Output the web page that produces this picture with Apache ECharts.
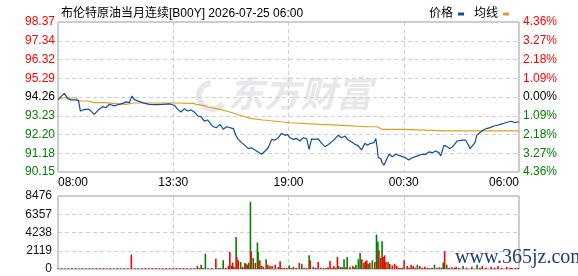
<!DOCTYPE html>
<html>
<head>
<meta charset="utf-8">
<script src="https://cdn.jsdelivr.net/npm/echarts@6/dist/echarts.min.js"></script>
<style>
html, body { margin: 0; padding: 0; background: #fff; }
#chart { width: 578px; height: 276px; }
</style>
</head>
<body>
<div id="chart"></div>
<script>
// tick labels
var priceTicks = ['90.15', '91.18', '92.20', '93.23', '94.26', '95.29', '96.32', '97.34', '98.37'];
var pctTicks = ['4.36%', '3.27%', '2.18%', '1.09%', '0.00%', '1.09%', '2.18%', '3.27%', '4.36%'];
var timeTicks = ['08:00', '13:30', '19:00', '00:30', '06:00'];
var volTicks = ['0', '2119', '4238', '6357', '8476'];

// price line (minutes after 08:00)
var priceMin = [0, 4, 18, 28, 37, 52, 59, 62, 64, 77, 89, 94, 104, 109, 117, 128, 137, 147, 161, 176,
    185, 195, 204, 212, 218, 228, 242, 261, 281, 300, 319, 333, 343, 352, 362, 371, 381, 390, 400, 409,
    419, 429, 438, 445, 454, 464, 473, 483, 492, 502, 510, 516, 526, 535, 545, 554, 564, 573, 583, 593,
    602, 612, 621, 631, 640, 650, 657, 664, 674, 683, 693, 702, 712, 719, 726, 735, 745, 755, 764, 774,
    783, 793, 802, 812, 822, 831, 841, 850, 860, 869, 879, 886, 895, 905, 910, 914, 917, 924, 928, 933,
    938, 943, 948, 957, 967, 976, 986, 995, 1004, 1014, 1024, 1033, 1043, 1053, 1062, 1072, 1081, 1091, 1096, 1105,
    1114, 1122, 1132, 1143, 1158, 1167, 1174, 1180, 1186, 1194, 1199, 1208, 1218, 1227, 1237, 1248, 1259, 1267, 1277, 1288,
    1298, 1307, 1315, 1320];
var priceVal = [94.12, 94.10, 94.46, 94.17, 94.10, 94.10, 94.05, 94.02, 93.49, 93.58, 93.58, 93.49, 93.31, 93.26, 93.58, 93.73, 93.67, 93.86, 93.77, 93.86,
    93.91, 93.99, 93.95, 94.31, 94.13, 94.05, 93.95, 93.86, 93.84, 93.86, 93.88, 93.81, 93.58, 93.44, 93.62, 93.49, 93.55, 93.44, 93.22, 93.18,
    92.94, 93.00, 92.76, 92.63, 92.58, 92.76, 92.49, 92.63, 92.58, 92.53, 92.12, 91.94, 91.76, 91.61, 91.43, 91.48, 91.36, 91.25, 91.12, 91.30,
    91.48, 91.94, 91.90, 92.03, 92.27, 92.16, 92.21, 92.03, 91.94, 91.99, 91.85, 92.03, 91.97, 91.39, 91.97, 91.94, 91.97, 91.72, 91.54, 91.66,
    91.79, 91.97, 92.16, 92.03, 92.12, 91.90, 91.79, 91.67, 91.58, 91.36, 91.72, 91.62, 91.72, 91.76, 91.98, 91.48, 90.93, 90.88, 90.66, 90.52,
    90.57, 90.93, 91.12, 90.99, 91.12, 91.06, 90.99, 90.93, 90.81, 90.93, 90.99, 91.06, 91.12, 91.12, 91.25, 91.21, 91.30, 91.21, 91.03, 91.61,
    91.54, 91.43, 91.58, 91.85, 91.90, 91.90, 91.67, 91.43, 91.58, 91.76, 92.16, 92.31, 92.45, 92.53, 92.58, 92.67, 92.71, 92.76, 92.82, 92.89,
    92.93, 92.86, 92.89, 92.89];

// average line
var avgMin = [0, 17, 52, 60, 86, 103, 132, 137, 195, 215, 329, 387, 395, 415, 432, 464, 492, 521, 550, 587,
    664, 750, 816, 879, 913, 928, 991, 1105, 1320];
var avgVal = [94.17, 94.22, 94.22, 94.04, 94.04, 93.95, 93.95, 93.86, 93.86, 93.93, 93.93, 93.91, 93.86, 93.80, 93.70, 93.58, 93.44, 93.26, 93.09, 93.00,
    92.85, 92.76, 92.71, 92.63, 92.63, 92.49, 92.49, 92.40, 92.40];

// volume: minute, amount, 1 = up (red) / 0 = down (green)
var volMin = [0, 10, 20, 30, 40, 50, 60, 70, 80, 90, 100, 110, 120, 130, 140, 150, 160, 170, 180, 190,
    200, 210, 220, 230, 240, 250, 260, 270, 280, 290, 300, 310, 320, 330, 340, 350, 360, 370, 380, 390,
    399, 405, 410, 415, 422, 430, 440, 452, 460, 466, 473, 480, 488, 492, 497, 500, 504, 510, 512, 516,
    523, 529, 535, 538, 542, 546, 551, 553, 559, 565, 571, 573, 578, 583, 588, 596, 601, 607, 613, 622,
    631, 636, 641, 648, 655, 662, 668, 674, 682, 691, 698, 705, 712, 719, 722, 731, 738, 745, 752, 760,
    767, 773, 779, 785, 790, 795, 800, 803, 809, 814, 819, 824, 828, 836, 844, 849, 853, 860, 865, 870,
    876, 880, 884, 888, 893, 900, 907, 912, 916, 919, 924, 928, 931, 935, 939, 945, 950, 957, 964, 970,
    976, 981, 986, 991, 1000, 1005, 1011, 1017, 1023, 1029, 1036, 1043, 1050, 1057, 1064, 1071, 1078, 1085, 1092, 1098,
    1103, 1107, 1113, 1120, 1128, 1135, 1140, 1148, 1160, 1170, 1185, 1200, 1208, 1215, 1225, 1240, 1250, 1260, 1270, 1285,
    1295, 1300, 1310, 1318];
var volVal = [100, 100, 100, 100, 120, 100, 100, 100, 100, 120, 100, 100, 100, 100, 100, 100, 100, 120, 100, 100,
    100, 1670, 100, 100, 100, 100, 100, 100, 100, 100, 100, 100, 100, 100, 100, 100, 100, 100, 100, 100,
    350, 100, 500, 150, 1780, 100, 120, 1200, 120, 100, 1010, 150, 350, 1980, 400, 740, 250, 3730, 1400, 1010,
    815, 250, 700, 600, 500, 740, 7810, 2060, 1280, 700, 3070, 1980, 1010, 350, 250, 1130, 500, 350, 350, 500,
    250, 890, 120, 150, 120, 400, 120, 250, 150, 700, 600, 150, 120, 1590, 1010, 250, 150, 815, 150, 120,
    120, 200, 930, 150, 350, 150, 1400, 350, 250, 200, 1130, 200, 1400, 250, 350, 200, 500, 1130, 1870, 1130,
    740, 890, 1000, 600, 740, 1010, 815, 4000, 3150, 2180, 1280, 3230, 1400, 1590, 815, 815, 600, 400, 600, 350,
    150, 120, 150, 1010, 350, 150, 500, 350, 150, 500, 350, 150, 250, 150, 120, 150, 500, 150, 200, 150,
    740, 2060, 500, 150, 200, 150, 250, 150, 350, 150, 250, 500, 150, 350, 150, 250, 150, 350, 150, 250,
    150, 120, 150, 150];
var volUp = [1, 1, 1, 1, 0, 0, 1, 1, 1, 0, 0, 1, 1, 1, 0, 1, 1, 0, 0, 1,
    1, 1, 1, 0, 1, 1, 0, 1, 1, 1, 1, 0, 1, 1, 1, 0, 1, 1, 1, 0,
    1, 1, 0, 1, 0, 0, 1, 1, 0, 1, 0, 1, 1, 1, 0, 1, 1, 0, 1, 1,
    0, 1, 1, 0, 1, 0, 0, 1, 0, 1, 0, 0, 1, 1, 1, 0, 1, 1, 1, 1,
    0, 1, 1, 1, 1, 0, 1, 1, 0, 1, 0, 1, 1, 0, 1, 1, 0, 1, 1, 0,
    1, 1, 1, 0, 1, 1, 1, 0, 1, 0, 0, 1, 0, 1, 1, 0, 0, 0, 0, 1,
    0, 1, 1, 0, 1, 0, 1, 0, 0, 1, 1, 0, 1, 1, 1, 0, 1, 1, 1, 1,
    1, 0, 1, 1, 0, 1, 1, 1, 1, 0, 1, 1, 1, 1, 0, 1, 0, 1, 1, 0,
    0, 1, 0, 1, 1, 0, 1, 1, 0, 1, 1, 0, 1, 1, 1, 1, 1, 1, 1, 1,
    1, 1, 1, 1];

var FONT = '"Liberation Sans", "Noto Sans CJK SC", sans-serif';
var RED = '#ff0000', GREEN = '#008000';

var priceData = priceMin.map(function (m, i) { return [m, priceVal[i]]; });
var avgData = avgMin.map(function (m, i) { return [m, avgVal[i]]; });
var volData = volMin.map(function (m, i) {
    return { value: [m, volVal[i]], itemStyle: { color: volUp[i] ? RED : GREEN } };
});

function tickIdx(v) { return Math.round((v - 90.15) / 1.0275); }
function sideColor(v) {
    var k = tickIdx(v);
    return k > 4 ? RED : (k < 4 ? GREEN : '#000');
}

var dash = { color: '#cfcfcf', type: [4, 3], width: 1 };

var chart = echarts.init(document.getElementById('chart'));
chart.setOption({
    animation: false,
    title: {
        text: '布伦特原油当月连续[B00Y] 2026-07-25 06:00',
        left: 56, top: 3,
        textStyle: { fontSize: 12, fontWeight: 'normal', color: '#000', fontFamily: FONT }
    },
    legend: {
        right: 64, top: 3,
        data: ['价格', '均线'],
        icon: 'rect', itemWidth: 6, itemHeight: 3, itemGap: 10, align: 'right',
        textStyle: { fontSize: 12, color: '#000', fontFamily: FONT }
    },
    graphic: [
        { type: 'arc', z: -10, shape: { cx: 212, cy: 96, r: 13, startAngle: 0.6, endAngle: 4.6 },
          style: { stroke: '#e8e8ec', lineWidth: 6, fill: null } },
        { type: 'text', z: -10, left: 228, top: 75,
          style: { text: '东方财富', fontSize: 36, fontWeight: 'bold', fontStyle: 'italic',
                   fill: '#e8e8ec', fontFamily: '"Noto Sans CJK SC"' } },
        { type: 'text', z: 100, left: 455, top: 248,
          style: { text: 'www.365jz.com', fontSize: 20, fill: '#1d3c78', fontFamily: '"Liberation Serif", serif' } }
    ],
    grid: [
        { left: 58, top: 22, width: 461, height: 150, show: true, borderColor: '#999', borderWidth: 1 },
        { left: 58, top: 196, width: 461, height: 73, show: true, borderColor: '#999', borderWidth: 1 }
    ],
    xAxis: [
        {
            gridIndex: 0, type: 'value', min: 0, max: 1320, interval: 330,
            axisLine: { show: false }, axisTick: { show: false },
            splitLine: { show: true, lineStyle: dash },
            axisLabel: {
                margin: 5, fontSize: 12, color: '#000', fontFamily: FONT,
                alignMinLabel: 'left', alignMaxLabel: 'right',
                formatter: function (v) { return timeTicks[Math.round(v / 330)]; }
            }
        },
        {
            gridIndex: 1, type: 'value', min: 0, max: 1320, interval: 330,
            axisLine: { show: false }, axisTick: { show: false },
            splitLine: { show: true, lineStyle: dash },
            axisLabel: { show: false }
        }
    ],
    yAxis: [
        {
            gridIndex: 0, type: 'value', min: 90.15, max: 98.37, interval: 1.0275,
            axisLine: { show: false }, axisTick: { show: false },
            splitLine: { show: true, lineStyle: dash },
            axisLabel: {
                margin: 3, fontSize: 12, fontFamily: FONT, color: sideColor,
                formatter: function (v) { return priceTicks[tickIdx(v)]; }
            }
        },
        {
            gridIndex: 0, type: 'value', position: 'right', min: 90.15, max: 98.37, interval: 1.0275,
            axisLine: { show: false }, axisTick: { show: false }, splitLine: { show: false },
            axisLabel: {
                margin: 4, fontSize: 12, fontFamily: FONT, color: sideColor,
                formatter: function (v) { return pctTicks[tickIdx(v)]; }
            }
        },
        {
            gridIndex: 1, type: 'value', min: 0, max: 8476, interval: 2119,
            axisLine: { show: false }, axisTick: { show: false },
            splitLine: { show: true, lineStyle: dash },
            axisLabel: {
                margin: 6, fontSize: 12, fontFamily: FONT, color: '#111',
                formatter: function (v) { return volTicks[Math.round(v / 2119)]; }
            }
        }
    ],
    series: [
        {
            name: '价格', type: 'line', xAxisIndex: 0, yAxisIndex: 0, data: priceData,
            showSymbol: false, color: '#0b4ea2', lineStyle: { width: 1.2 }, z: 4
        },
        {
            name: '均线', type: 'line', xAxisIndex: 0, yAxisIndex: 0, data: avgData,
            showSymbol: false, color: '#dca21e', lineStyle: { width: 1.2 }, z: 3
        },
        {
            name: '成交量', type: 'bar', xAxisIndex: 1, yAxisIndex: 2, data: volData,
            barWidth: 1.6
        }
    ]
});
</script>
</body>
</html>
